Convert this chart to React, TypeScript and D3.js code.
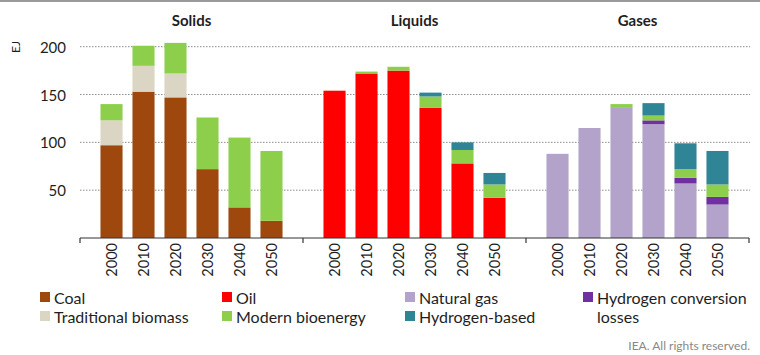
import * as d3 from "d3";

const years = ["2000", "2010", "2020", "2030", "2040", "2050"];
const panels = ["Solids", "Liquids", "Gases"];
const yTicks = [50, 100, 150, 200];

// Solids
const coal = [97, 153, 147, 72, 32, 18];
const tradBiomass = [26, 27, 25, 0, 0, 0];
const solidsBio = [17, 21, 32, 54, 73, 73];
// Liquids
const oil = [154, 172, 175, 136, 78, 42];
const liquidsBio = [0, 2, 4, 12, 14, 14];
const liquidsHydrogen = [0, 0, 0, 4, 8, 12];
// Gases
const naturalGas = [88, 115, 136, 119, 57, 35];
const conversionLosses = [0, 0, 0, 4, 6, 8];
const gasesBio = [0, 0, 4, 5, 9, 13];
const gasesHydrogen = [0, 0, 0, 13, 27, 35];

const colors: Record<string, string> = {
  Coal: "#9e480e",
  "Traditional biomass": "#dbd5c4",
  "Modern bioenergy": "#8dcf4a",
  Oil: "#ff0000",
  "Natural gas": "#b3a2c9",
  "Hydrogen conversion losses": "#7030a0",
  "Hydrogen-based": "#2f8496",
};

const panelSeries: Record<string, { key: string; values: number[] }[]> = {
  Solids: [
    { key: "Coal", values: coal },
    { key: "Traditional biomass", values: tradBiomass },
    { key: "Modern bioenergy", values: solidsBio },
  ],
  Liquids: [
    { key: "Oil", values: oil },
    { key: "Modern bioenergy", values: liquidsBio },
    { key: "Hydrogen-based", values: liquidsHydrogen },
  ],
  Gases: [
    { key: "Natural gas", values: naturalGas },
    { key: "Hydrogen conversion losses", values: conversionLosses },
    { key: "Modern bioenergy", values: gasesBio },
    { key: "Hydrogen-based", values: gasesHydrogen },
  ],
};

const legendRows = [
  ["Coal", "Oil", "Natural gas", "Hydrogen conversion losses"],
  ["Traditional biomass", "Modern bioenergy", "Hydrogen-based"],
];

const W = 760;
const H = 355;
const font = "Lato, 'Open Sans', sans-serif";
const ink = "#1e1e1e";

export default function App() {
  const x0 = d3.scaleBand().domain(panels).range([80, 749]);
  const x1 = d3
    .scaleBand()
    .domain(years)
    .range([0, x0.bandwidth()])
    .paddingInner(0.31)
    .paddingOuter(0.64);
  const y = d3.scaleLinear().domain([0, 200]).range([238, 46.7]);

  const legendX = [40, 222, 405, 583];
  const legendY = [297, 316];

  return (
    <svg
      width={W}
      height={H}
      style={{ position: "absolute", left: 0, top: 0, background: "#fff" }}
      fontFamily={font}
    >
      <rect x={0} y={0} width={W} height={2} fill="#9a9a9a" />

      {/* gridlines */}
      {yTicks.map((t) => (
        <line
          key={t}
          x1={80}
          x2={750}
          y1={y(t)}
          y2={y(t)}
          stroke="#8c8c8c"
          strokeWidth={1}
          strokeDasharray="1.5,1.5"
        />
      ))}

      {/* y tick labels */}
      {yTicks.map((t) => (
        <text
          key={t}
          x={66}
          y={y(t)}
          textAnchor="end"
          dominantBaseline="central"
          fontSize={15}
          fill={ink}
        >
          {t}
        </text>
      ))}
      <text
        transform={`translate(15,47) rotate(-90)`}
        textAnchor="middle"
        dominantBaseline="central"
        fontSize={12}
        fill={ink}
      >
        EJ
      </text>

      {panels.map((p) => {
        const stack = d3
          .stack<number>()
          .keys(panelSeries[p].map((s, i) => String(i)))
          .value((d, k) => panelSeries[p][+k].values[d]);
        const layers = stack(years.map((_, i) => i));
        const gx = x0(p) || 0;
        return (
          <g key={p} transform={`translate(${gx},0)`}>
            <text
              x={x0.bandwidth() / 2}
              y={20}
              textAnchor="middle"
              dominantBaseline="central"
              fontSize={15}
              fontWeight="bold"
              fill={ink}
            >
              {p}
            </text>
            {layers.map((layer, li) =>
              layer.map((d, i) =>
                d[1] - d[0] > 0 ? (
                  <rect
                    key={`${li}-${i}`}
                    x={x1(years[i])}
                    width={x1.bandwidth()}
                    y={y(d[1])}
                    height={y(d[0]) - y(d[1])}
                    fill={colors[panelSeries[p][li].key]}
                  />
                ) : null
              )
            )}
            {years.map((yr) => (
              <text
                key={yr}
                transform={`translate(${(x1(yr) || 0) + x1.bandwidth() / 2},243) rotate(-90)`}
                textAnchor="end"
                dominantBaseline="central"
                fontSize={14.5}
                fill={ink}
              >
                {yr}
              </text>
            ))}
          </g>
        );
      })}

      {/* x axis */}
      <line x1={80} x2={749} y1={238} y2={238} stroke="#333" strokeWidth={1.2} />
      {[...panels.map((p) => x0(p) || 0), 749].map((tx, i) => (
        <line key={i} x1={tx} x2={tx} y1={238} y2={243} stroke="#333" strokeWidth={1.2} />
      ))}

      {/* legend */}
      {legendRows.map((row, ri) =>
        row.map((label, ci) => (
          <g key={label} transform={`translate(${legendX[ci]},${legendY[ri]})`}>
            <rect x={0} y={-5} width={10} height={10} fill={colors[label]} />
            {label === "Hydrogen conversion losses" ? (
              <text fontSize={16} fill={ink} dominantBaseline="central">
                <tspan x={14} y={0}>Hydrogen conversion</tspan>
                <tspan x={14} y={19}>losses</tspan>
              </text>
            ) : (
              <text x={14} y={0} fontSize={16} fill={ink} dominantBaseline="central">
                {label}
              </text>
            )}
          </g>
        ))
      )}

      <text x={750} y={345} textAnchor="end" dominantBaseline="central" fontSize={12} fill="#888">
        IEA. All rights reserved.
      </text>
    </svg>
  );
}
